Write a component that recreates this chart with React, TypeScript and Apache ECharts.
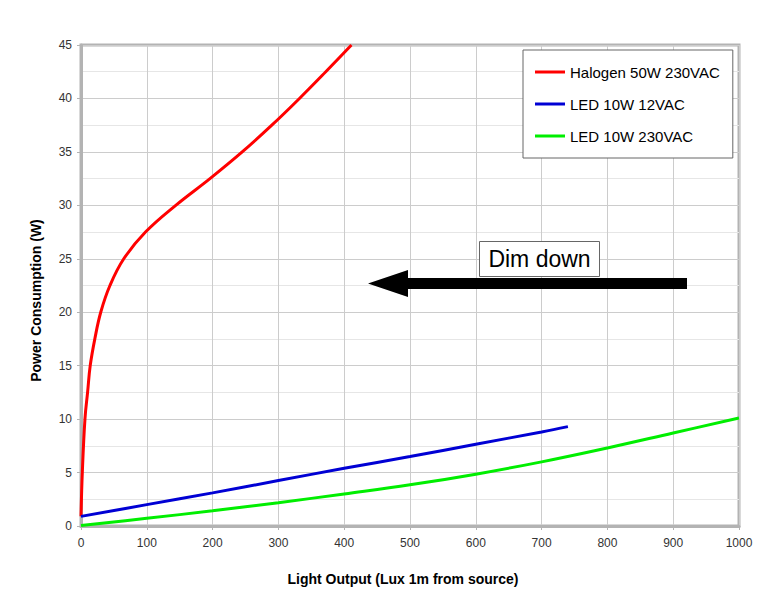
import React, { useEffect, useRef } from "react";
import * as echarts from "echarts";

const seriesNames = ["Halogen 50W 230VAC", "LED 10W 12VAC", "LED 10W 230VAC"];
const seriesColors = ["#ff0000", "#0000d4", "#00ee00"];

const halogenLux = [0, 2, 6, 10, 14, 21, 30, 44, 65, 98, 144, 196, 245, 290, 332, 372, 411];
const halogenWatts = [0.9, 5, 10, 12.5, 15, 17.5, 20, 22.5, 25, 27.5, 30, 32.5, 35, 37.5, 40, 42.5, 45];

const led12Lux = [0, 100, 200, 300, 400, 500, 600, 700, 740];
const led12Watts = [0.9, 2.0, 3.1, 4.25, 5.4, 6.5, 7.65, 8.8, 9.3];

const led230Lux = [0, 100, 200, 300, 400, 500, 600, 700, 800, 900, 1000];
const led230Watts = [0.05, 0.72, 1.42, 2.18, 3.0, 3.85, 4.85, 6.0, 7.3, 8.7, 10.1];

const xMin = 0;
const xMax = 1000;
const xInterval = 100;
const yMin = 0;
const yMax = 45;
const yInterval = 5;

const xTitle = "Light Output (Lux 1m from source)";
const yTitle = "Power Consumption (W)";
const annotationText = "Dim down";

const FONT = "'Liberation Sans', Arial, sans-serif";

function zip(xs: number[], ys: number[]) {
  return xs.map((x, i) => [x, ys[i]]);
}

export default function App() {
  const ref = useRef<HTMLDivElement>(null);

  useEffect(() => {
    document.body.style.margin = "0";
    if (!ref.current) return;
    const chart = echarts.init(ref.current, undefined, { renderer: "svg" });
    const datasets = [
      zip(halogenLux, halogenWatts),
      zip(led12Lux, led12Watts),
      zip(led230Lux, led230Watts),
    ];
    chart.setOption({
      animation: false,
      backgroundColor: "#ffffff",
      textStyle: { fontFamily: FONT },
      grid: {
        left: 81,
        right: 35,
        top: 45,
        bottom: 90,
        show: true,
        borderColor: "#b3b3b3",
        borderWidth: 3,
        backgroundColor: "transparent",
      },
      legend: {
        orient: "vertical",
        left: 523,
        top: 50,
        padding: [13, 13, 13, 12],
        itemGap: 14,
        itemWidth: 30,
        itemHeight: 3,
        icon: "rect",
        backgroundColor: "#ffffff",
        borderColor: "#666666",
        borderWidth: 1,
        textStyle: { fontSize: 15, color: "#000000", fontFamily: FONT, lineHeight: 18 },
        data: seriesNames,
      },
      xAxis: {
        type: "value",
        min: xMin,
        max: xMax,
        interval: xInterval,
        name: xTitle,
        nameLocation: "middle",
        nameGap: 46,
        nameTextStyle: {
          fontSize: 14,
          fontWeight: "bold",
          color: "#000000",
          fontFamily: FONT,
          padding: [0, 14, 0, 0],
        },
        axisLine: { show: true, lineStyle: { color: "#b3b3b3", width: 3 } },
        axisTick: { show: true, length: 4, lineStyle: { color: "#b3b3b3" } },
        axisLabel: {
          fontSize: 12,
          color: "#333333",
          margin: 11,
          fontFamily: FONT,
          formatter: (v: number) => String(v),
        },
        splitLine: { show: true, lineStyle: { color: "#cccccc", width: 1 } },
      },
      yAxis: {
        type: "value",
        min: yMin,
        max: yMax,
        interval: yInterval,
        name: yTitle,
        nameLocation: "middle",
        nameGap: 38,
        nameRotate: 90,
        nameTextStyle: {
          fontSize: 14,
          fontWeight: "bold",
          color: "#000000",
          fontFamily: FONT,
          padding: [0, 30, 0, 0],
        },
        axisLine: { show: true, lineStyle: { color: "#b3b3b3", width: 3 } },
        axisTick: { show: true, length: 4, lineStyle: { color: "#b3b3b3" } },
        axisLabel: {
          fontSize: 12,
          color: "#333333",
          margin: 9,
          fontFamily: FONT,
          formatter: (v: number) => String(v),
        },
        splitLine: { show: true, lineStyle: { color: "#cccccc", width: 1 } },
        minorTick: { show: false, splitNumber: 2 },
        minorSplitLine: { show: true, lineStyle: { color: "#e6e6e6", width: 1 } },
      },
      series: seriesNames.map((name, i) => ({
        name,
        type: "line",
        data: datasets[i],
        smooth: 0.4,
        showSymbol: false,
        symbol: "none",
        lineStyle: { color: seriesColors[i], width: 3 },
        itemStyle: { color: seriesColors[i] },
        z: 3,
      })),
      graphic: [
        {
          type: "polygon",
          z: 10,
          shape: {
            points: [
              [368, 283.5],
              [408, 270],
              [408, 278],
              [687, 278],
              [687, 289],
              [408, 289],
              [408, 297],
            ],
          },
          style: { fill: "#000000" },
        },
        {
          type: "rect",
          z: 10,
          shape: { x: 479.5, y: 241.5, width: 120, height: 35 },
          style: { fill: "#ffffff", stroke: "#666666", lineWidth: 1 },
        },
        {
          type: "text",
          z: 11,
          x: 539.5,
          y: 259,
          style: {
            text: annotationText,
            fontSize: 23,
            fontFamily: FONT,
            fill: "#000000",
            align: "center",
            verticalAlign: "middle",
          },
        },
      ],
    });
    return () => chart.dispose();
  }, []);

  return (
    <div
      ref={ref}
      style={{ position: "fixed", left: 0, top: 0, width: 774, height: 616 }}
    />
  );
}
